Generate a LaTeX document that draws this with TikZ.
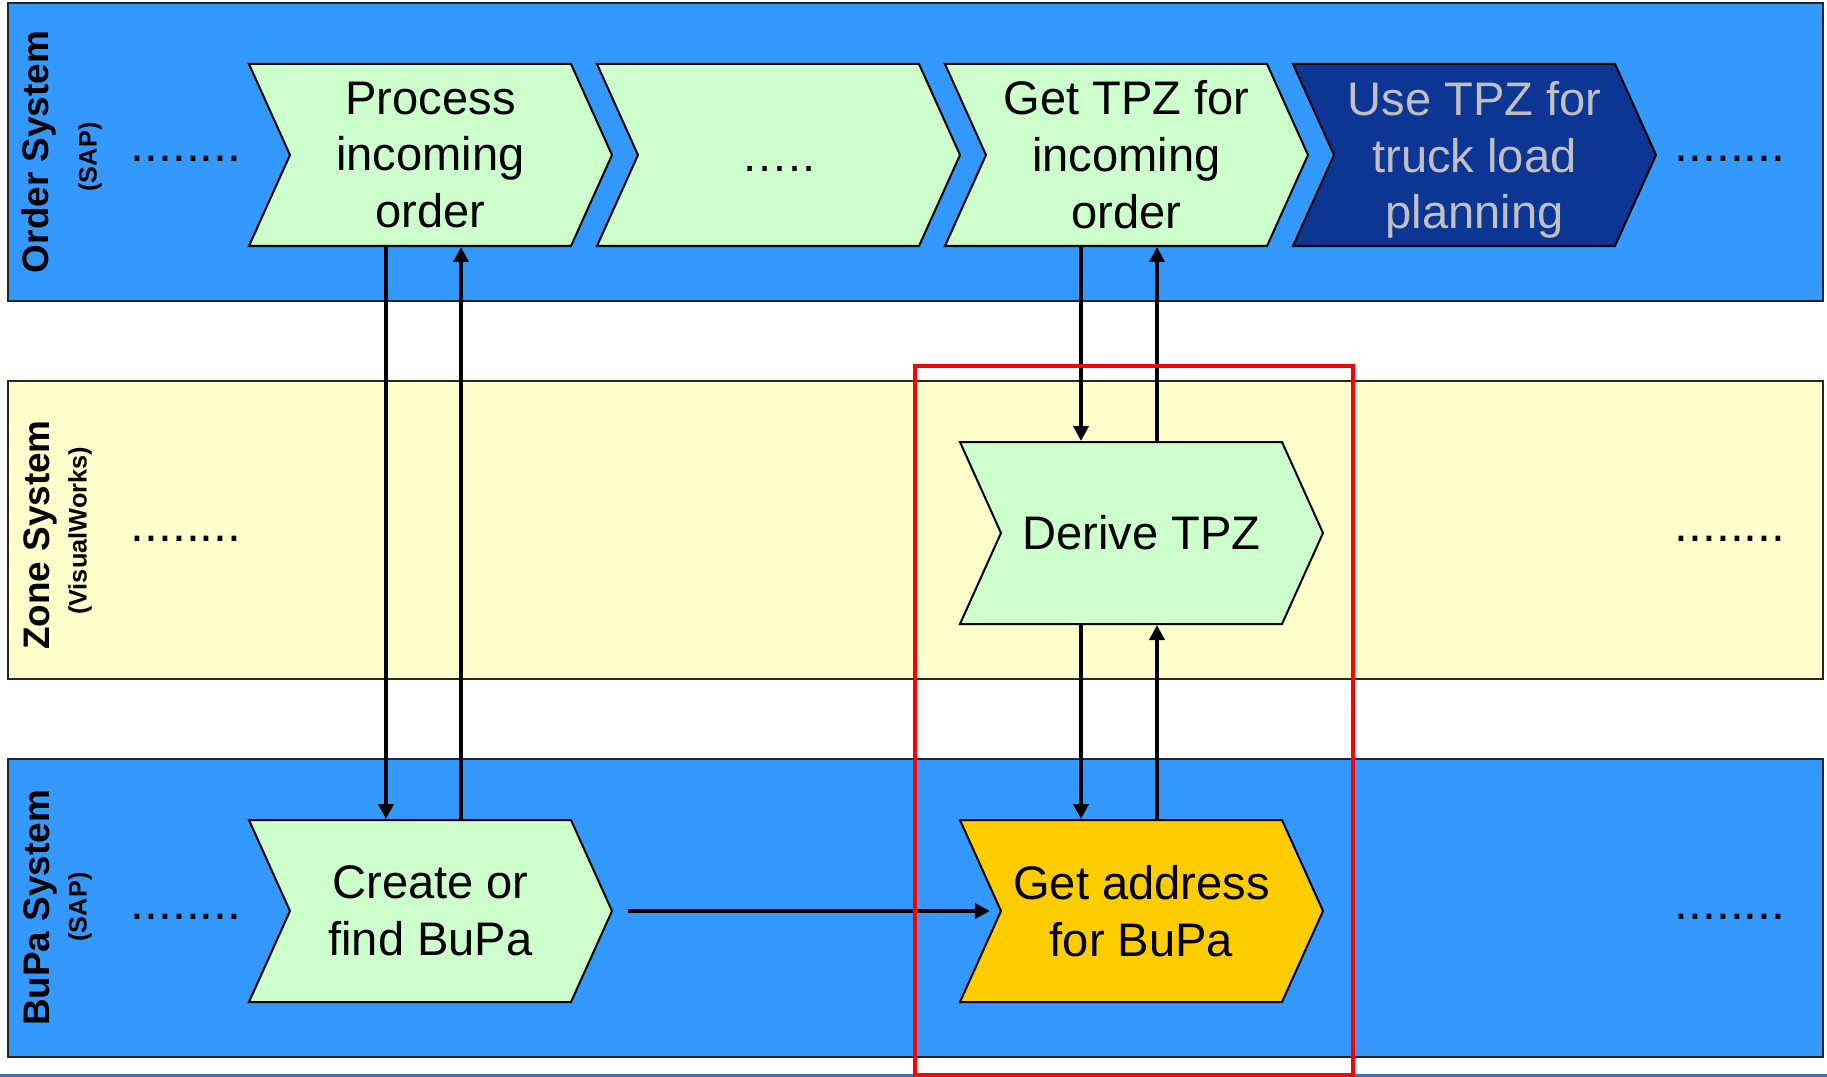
\documentclass[tikz,border=0pt]{standalone}
\usepackage{fontspec}
\setmainfont{Liberation Sans}
\usetikzlibrary{shapes.symbols,arrows.meta}
\definecolor{laneblue}{HTML}{3399FF}
\definecolor{laneyellow}{HTML}{FFFFCC}
\definecolor{stepgreen}{HTML}{CCFFCC}
\definecolor{stepnavy}{HTML}{0D3593}
\definecolor{stepgold}{HTML}{FFCC00}
\definecolor{stepgrey}{HTML}{C0C0C0}
\definecolor{slideband}{HTML}{3F6CB4}
\begin{document}
\begin{tikzpicture}
        [
            lane/.style={draw=black!85, line width=0.02cm},
            chevron/.style={signal, signal from=west, signal to=east, signal pointer angle=131.5,
                draw, line width=0.02cm, fill=stepgreen, minimum width=3.63cm, minimum height=1.82cm,
                inner sep=0pt, align=center, font=\fontsize{13.4}{16.2}\selectfont},
            title/.style={rotate=90, font=\fontsize{10.5}{12}\selectfont\bfseries},
            subtitle/.style={rotate=90, font=\fontsize{7.2}{8.5}\selectfont\bfseries},
            more/.style={anchor=base, font=\fontsize{14.2}{17}\selectfont},
            flow/.style={line width=0.04cm, -{Triangle[width=0.15cm, length=0.15cm]}},
            focus/.style={draw=red, line width=0.04cm}
        ]
        \useasboundingbox (0,0) rectangle (18.27,-10.77);
        \fill[white] (0,0) rectangle (18.27,-10.77);
        \fill[slideband] (0,-10.735) rectangle (18.27,-10.77);

        \draw[lane, fill=laneblue] (0.08,-0.03) rectangle (18.23,-3.01);
        \draw[lane, fill=laneyellow] (0.08,-3.81) rectangle (18.23,-6.79);
        \draw[lane, fill=laneblue] (0.08,-7.59) rectangle (18.23,-10.57);

        \node[title] (ordertitle) at (0.39, -1.52) {Order System};
        \node[subtitle] (ordersub) at (0.90, -1.57) {(SAP)};
        \node[title] (zonetitle) at (0.40, -5.35) {Zone System};
        \node[subtitle] (zonesub) at (0.80, -5.31) {(VisualWorks)};
        \node[title] (bupatitle) at (0.40, -9.08) {BuPa System};
        \node[subtitle] (bupasub) at (0.80, -9.07) {(SAP)};

        \node[more] (orderin) at (1.86, -1.62) {........};
        \node[more] (orderout) at (17.30, -1.62) {........};
        \node[more] (zonein) at (1.86, -5.41) {........};
        \node[more] (zoneout) at (17.30, -5.41) {........};
        \node[more] (bupain) at (1.86, -9.19) {........};
        \node[more] (bupaout) at (17.30, -9.19) {........};

        \node[chevron] (process) at (4.305, -1.55) {Process\\incoming\\order};
        \node[chevron] (gap) at (7.785, -1.55) {\vphantom{P}…..};
        \node[chevron] (gettpz) at (11.265, -1.55) {Get TPZ for\\incoming\\order};
        \node[chevron, fill=stepnavy, text=stepgrey, text depth=0pt] (usetpz) at (14.745, -1.55) {Use TPZ for\\truck load\\planning};
        \node[chevron] (derive) at (11.415, -5.33) {Derive TPZ};
        \node[chevron] (create) at (4.305, -9.11) {Create or\\find BuPa};
        \node[chevron, fill=stepgold] (address) at (11.415, -9.11) {Get address\\for BuPa};

        \draw[flow] ([xshift=-4.45mm]process.south) -- ([xshift=-4.45mm]process.south |- create.north);
        \draw[flow] ([xshift=3.05mm]create.north) -- ([xshift=3.05mm]create.north |- process.south);
        \draw[flow] ([xshift=-6.05mm]derive.north |- gettpz.south) -- ([xshift=-6.05mm]derive.north);
        \draw[flow] ([xshift=1.55mm]derive.north) -- ([xshift=1.55mm]derive.north |- gettpz.south);
        \draw[flow] ([xshift=-6.05mm]derive.south) -- ([xshift=-6.05mm]address.north);
        \draw[flow] ([xshift=1.55mm]address.north) -- ([xshift=1.55mm]derive.south);
        \draw[flow] ([xshift=1.5mm]create.east) -- ([xshift=-1mm]address.west);

        \draw[focus] (9.15,-3.66) rectangle (13.53,-10.75);
    \end{tikzpicture}
\end{document}
